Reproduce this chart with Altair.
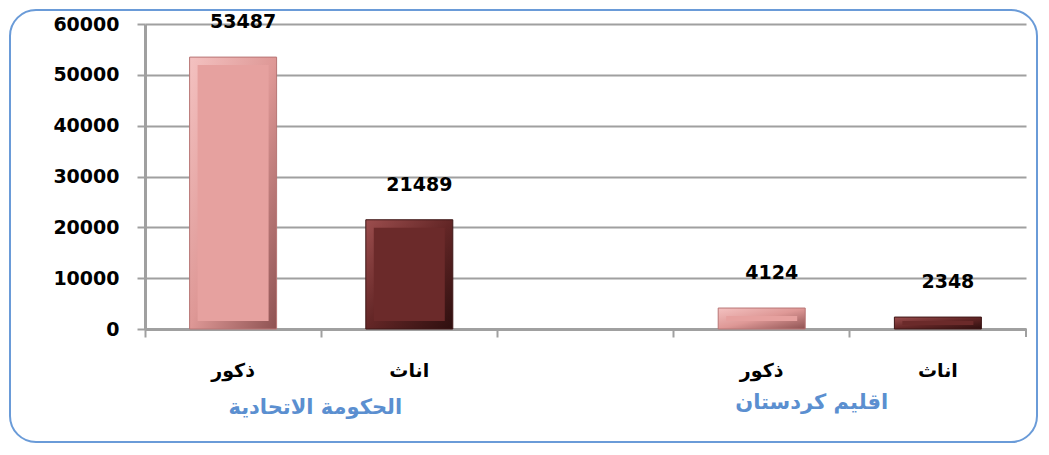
import altair as alt
import pandas as pd

# ---- data ----
slots = ["ذكور|1", "اناث|1", "|gap", "ذكور|2", "اناث|2"]
bar_slots = ["ذكور|1", "اناث|1", "ذكور|2", "اناث|2"]
sex = ["ذكور", "اناث", "ذكور", "اناث"]
values = [53487, 21489, 4124, 2348]
groups = ["الحكومة الاتحادية", "اقليم كردستان"]
y_ticks = [0, 10000, 20000, 30000, 40000, 50000, 60000]

df = pd.DataFrame({"slot": bar_slots, "sex": sex, "value": values})

FONT = "DejaVu Sans"
PINK = "#E6A19F"
MAROON = "#6B2A2A"
BLUE = "#5B8FD0"
GRID = "#A0A0A0"

x_enc = alt.X(
    "slot:N",
    scale=alt.Scale(domain=slots, paddingInner=0, paddingOuter=0),
    axis=alt.Axis(
        title=None,
        labelExpr="split(datum.label, '|')[0]",
        bandPosition=0,
        labelAngle=0,
        labelFont=FONT,
        labelFontSize=19,
        labelFontWeight="bold",
        labelColor="black",
        labelPadding=24,
        tickSize=8,
        tickColor=GRID,
        tickWidth=2,
        domainColor=GRID,
        domainWidth=3,
        grid=False,
    ),
)
y_enc = alt.Y(
    "value:Q",
    scale=alt.Scale(domain=[0, 60000]),
    axis=alt.Axis(
        title=None,
        values=y_ticks,
        format="d",
        labelFont=FONT,
        labelFontSize=19,
        labelFontWeight="bold",
        labelColor="black",
        labelPadding=18,
        tickSize=8,
        tickColor=GRID,
        tickWidth=2,
        domainColor=GRID,
        domainWidth=3,
        grid=True,
        gridColor=GRID,
        gridWidth=2,
    ),
)

base = alt.Chart(df)


def grad(light, mid, dark):
    return alt.Gradient(
        gradient="linear",
        stops=[
            alt.GradientStop(color=light, offset=0),
            alt.GradientStop(color=mid, offset=0.5),
            alt.GradientStop(color=dark, offset=1),
        ],
        x1=0, y1=0, x2=1, y2=1,
    )


outer_pink = base.transform_filter(alt.datum.sex == "ذكور").mark_bar(
    width=87, color=grad("#F4C2C1", "#DE9896", "#8E5252"),
    stroke="#B87574", strokeWidth=1,
).encode(x=x_enc, y=y_enc)

outer_maroon = base.transform_filter(alt.datum.sex == "اناث").mark_bar(
    width=87, color=grad("#9C4E4E", "#632626", "#2E0F0F"),
    stroke="#3E1616", strokeWidth=1,
).encode(x=x_enc, y=y_enc)

inner = base.mark_bar(width=71, yOffset=8, y2Offset=-8).encode(
    x=alt.X("slot:N"),
    y=alt.Y("value:Q"),
    y2=alt.datum(0),
    color=alt.Color("sex:N", scale=alt.Scale(domain=["ذكور", "اناث"], range=[PINK, MAROON]), legend=None),
)

labels = base.mark_text(
    font=FONT, fontSize=19, fontWeight="bold", color="black",
    baseline="middle", dy=-35, dx=10,
).encode(x=alt.X("slot:N"), y=alt.Y("value:Q"), text=alt.Text("value:Q", format="d"))

g1 = alt.Chart(pd.DataFrame({"slot": [bar_slots[1]], "g": [groups[0]]})).mark_text(
    font=FONT, fontSize=21, fontWeight="bold", color=BLUE, dx=-94, baseline="middle",
).encode(x=alt.X("slot:N"), y=alt.value(384), text="g:N")

g2 = alt.Chart(pd.DataFrame({"slot": [bar_slots[2]], "g": [groups[1]]})).mark_text(
    font=FONT, fontSize=21, fontWeight="bold", color=BLUE, dx=50, baseline="middle",
).encode(x=alt.X("slot:N"), y=alt.value(379), text="g:N")

end_tick = alt.Chart(pd.DataFrame({"k": [0]})).mark_rule(color=GRID, strokeWidth=2).encode(
    x=alt.value(881), y=alt.value(305), y2=alt.value(313)
)

frame = alt.Chart(pd.DataFrame({"k": [0]})).mark_rect(
    fillOpacity=0, stroke="#6A9BD8", strokeWidth=2, cornerRadius=26,
).encode(x=alt.value(-135), x2=alt.value(892), y=alt.value(-14), y2=alt.value(418))

chart = alt.layer(outer_pink, outer_maroon, inner, labels, g1, g2, end_tick, frame).properties(
    width=881,
    height=305,
    padding={"left": 137, "top": 16, "right": 14, "bottom": 118},
    autosize=alt.AutoSizeParams(type="none"),
    background="white",
).configure_view(stroke=None)

chart.save("out.html", embed_options={"renderer": "svg", "actions": False})
